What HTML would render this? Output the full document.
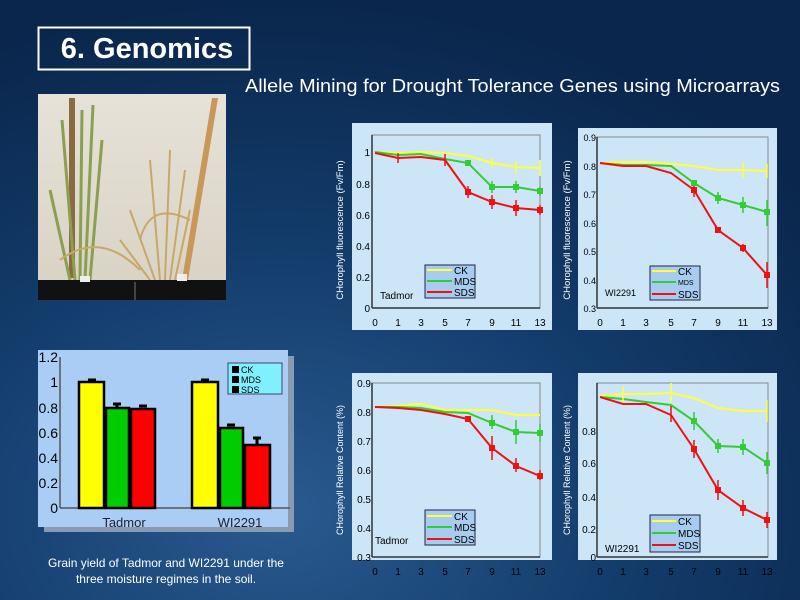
<!DOCTYPE html>
<html><head><meta charset="utf-8"><style>
html,body{margin:0;padding:0;width:800px;height:600px;overflow:hidden;background:#0b2b55}
svg{display:block;font-family:"Liberation Sans",sans-serif}
</style></head><body>
<svg width="800" height="600" viewBox="0 0 800 600" xmlns="http://www.w3.org/2000/svg">
<defs>
<radialGradient id="bg" cx="0.35" cy="0.85" r="0.85">
<stop offset="0" stop-color="#2a5a90"/><stop offset="0.5" stop-color="#133d6c"/><stop offset="1" stop-color="#0a264c"/>
</radialGradient>
<linearGradient id="wall" x1="0" y1="0" x2="0" y2="1"><stop offset="0" stop-color="#e6e2d8"/><stop offset="1" stop-color="#d8d2c4"/></linearGradient>
</defs>
<rect width="800" height="600" fill="url(#bg)"/>
<rect x="38.5" y="27.5" width="211" height="42" fill="none" stroke="#fff" stroke-width="2"/>
<text x="147" y="58" fill="#fff" font-size="29" font-weight="bold" text-anchor="middle">6. Genomics</text>
<text x="245" y="92" fill="#fff" font-size="18.7" textLength="535" lengthAdjust="spacingAndGlyphs">Allele Mining for Drought Tolerance Genes using Microarrays</text>
<!-- photo -->
<rect x="38" y="94" width="188" height="206" fill="url(#wall)"/>
<rect x="69" y="98" width="6" height="180" fill="#8a6a40"/>
<polygon points="212,98 218,98 188,280 182,280" fill="#c89858"/>
<g stroke="#8aa050" stroke-width="3" fill="none">
<path d="M75,280 L62,120 M80,280 L82,110 M85,280 L93,105 M90,280 L102,140 M70,280 L50,190"/>
</g>
<g stroke="#c8a868" stroke-width="2" fill="none">
<path d="M160,280 L150,160 M165,280 L170,150 M170,280 L185,170 M155,280 L130,210 M150,280 L120,240 M175,280 L190,210 M140,240 Q150,200 190,220 M60,260 Q100,230 140,270"/>
</g>
<rect x="38" y="280" width="188" height="20" fill="#111"/>
<rect x="134" y="282" width="2" height="18" fill="#444"/>
<rect x="80" y="276" width="10" height="6" fill="#eee"/><rect x="177" y="274" width="10" height="7" fill="#eee"/>
<!-- bar chart -->
<rect x="44" y="356" width="250" height="176" fill="#8a9ab0"/>
<rect x="38" y="350" width="250" height="177" fill="#a9cdf5"/>
<g font-size="14" fill="#000" text-anchor="end">
<text x="58" y="513">0</text><text x="58" y="488">0.2</text><text x="58" y="463">0.4</text><text x="58" y="438">0.6</text><text x="58" y="413">0.8</text><text x="58" y="387">1</text><text x="58" y="362">1.2</text>
</g>
<line x1="60" y1="357" x2="60" y2="508" stroke="#555" stroke-width="1.5"/>
<line x1="60" y1="508" x2="290" y2="508" stroke="#555" stroke-width="1.5"/>
<g stroke="#000" stroke-width="2.5">
<rect x="79" y="382" width="25" height="126" fill="#ffff00"/>
<rect x="106" y="408" width="23" height="100" fill="#00cc00"/>
<rect x="131" y="409" width="24" height="99" fill="#ff0000"/>
<rect x="192" y="382" width="26" height="126" fill="#ffff00"/>
<rect x="220" y="428" width="23" height="80" fill="#00cc00"/>
<rect x="245" y="445" width="25" height="63" fill="#ff0000"/>
</g>
<g stroke="#000" stroke-width="3">
<path d="M88,380h8 M113,404h8 M139,406h8 M201,380h8 M227,425h8 M253,438h8 M117,404v4 M257,438v7"/>
</g>
<rect x="228" y="363" width="54" height="31" fill="#80f0ff" stroke="#446" stroke-width="1"/>
<g font-size="9" fill="#000"><rect x="232" y="366" width="7" height="7"/><rect x="232" y="376" width="7" height="7"/><rect x="232" y="386" width="7" height="7"/>
<text x="241" y="373">CK</text><text x="241" y="383">MDS</text><text x="241" y="393">SDS</text></g>
<g font-size="13" fill="#223" text-anchor="middle"><text x="124" y="527">Tadmor</text><text x="240" y="527">WI2291</text></g>
<g font-size="12" fill="#fff" text-anchor="middle"><text x="166" y="567">Grain yield of Tadmor and WI2291 under the</text><text x="166" y="583">three moisture regimes in the soil.</text></g>

<g font-size="10" fill="#000">
<!-- P1 -->
<rect x="352" y="123" width="200" height="207" fill="#cce6f8"/>
<rect x="372" y="135" width="168" height="173" fill="none" stroke="#888"/>
<line x1="372" y1="308" x2="540" y2="308" stroke="#333" stroke-width="1.5"/>
<line x1="372" y1="135" x2="372" y2="308" stroke="#333" stroke-width="1.5"/>
<g text-anchor="end"><text x="370" y="312">0</text><text x="370" y="281">0.2</text><text x="370" y="250">0.4</text><text x="370" y="219">0.6</text><text x="370" y="188">0.8</text><text x="370" y="156">1</text></g>
<g text-anchor="middle"><text x="375" y="326">0</text><text x="398" y="326">1</text><text x="421" y="326">3</text><text x="445" y="326">5</text><text x="468" y="326">7</text><text x="492" y="326">9</text><text x="516" y="326">11</text><text x="540" y="326">13</text></g>
<polyline points="375,152 398,153 421,152 445,153 468,156 492,163 516,167 540,168" fill="none" stroke="#ffff40" stroke-width="2"/>
<polyline points="375,152 398,155 421,154 445,159 468,163 492,187 516,187 540,191" fill="none" stroke="#33cc33" stroke-width="2"/>
<polyline points="375,153 398,158 421,157 445,160 468,192 492,202 516,208 540,210" fill="none" stroke="#ee1111" stroke-width="2"/>
<g stroke="#ee1111" stroke-width="1.5"><path d="M468,186v12 M492,195v14 M516,200v16 M540,205v10 M398,153v10 M445,154v12"/></g>
<g stroke="#33cc33" stroke-width="1.5"><path d="M492,181v12 M516,181v12 M540,186v10"/></g>
<g stroke="#ffff40" stroke-width="1.5"><path d="M540,160v16 M516,161v12 M492,158v10"/></g>
<g fill="#33cc33"><rect x="489" y="184" width="6" height="6"/><rect x="513" y="184" width="6" height="6"/><rect x="537" y="188" width="6" height="6"/><rect x="465" y="160" width="6" height="6"/></g>
<g fill="#ee1111"><rect x="465" y="189" width="6" height="6"/><rect x="489" y="199" width="6" height="6"/><rect x="513" y="205" width="6" height="6"/><rect x="537" y="207" width="6" height="6"/></g>
<rect x="425" y="265" width="50" height="33" fill="#a8ccf0" stroke="#224"/>
<line x1="427" y1="270" x2="452" y2="270" stroke="#ffff40" stroke-width="2"/><line x1="427" y1="281" x2="452" y2="281" stroke="#33cc33" stroke-width="2"/><line x1="427" y1="292" x2="452" y2="292" stroke="#ee1111" stroke-width="2"/>
<text x="454" y="274">CK</text><text x="454" y="285">MDS</text><text x="454" y="296">SDS</text>
<text x="380" y="299">Tadmor</text>
<text transform="translate(343,230) rotate(-90)" text-anchor="middle" fill="#fff" font-size="9.5">CHorophyll fluorescence (Fv/Fm)</text>

<!-- P2 -->
<rect x="578" y="128" width="199" height="202" fill="#cce6f8"/>
<rect x="597" y="137" width="171" height="171" fill="none" stroke="#888"/>
<line x1="597" y1="308" x2="768" y2="308" stroke="#333" stroke-width="1.5"/>
<line x1="597" y1="137" x2="597" y2="308" stroke="#333" stroke-width="1.5"/>
<g text-anchor="end" font-size="9"><text x="596" y="312">0.3</text><text x="596" y="284">0.4</text><text x="596" y="255">0.5</text><text x="596" y="227">0.6</text><text x="596" y="198">0.7</text><text x="596" y="170">0.8</text><text x="596" y="141">0.9</text></g>
<g text-anchor="middle"><text x="600" y="326">0</text><text x="623" y="326">1</text><text x="646" y="326">3</text><text x="671" y="326">5</text><text x="694" y="326">7</text><text x="718" y="326">9</text><text x="743" y="326">11</text><text x="767" y="326">13</text></g>
<polyline points="600,163 623,162 646,162 671,164 694,166 718,170 743,170 767,171" fill="none" stroke="#ffff40" stroke-width="2"/>
<polyline points="600,163 623,165 646,165 671,166 694,183 718,198 743,205 767,212" fill="none" stroke="#33cc33" stroke-width="2"/>
<polyline points="600,163 623,166 646,166 671,173 694,190 718,230 743,248 767,275" fill="none" stroke="#ee1111" stroke-width="2"/>
<g stroke="#ee1111" stroke-width="1.5"><path d="M694,183v14 M767,262v26 M743,244v8"/></g>
<g stroke="#33cc33" stroke-width="1.5"><path d="M718,192v12 M743,197v16 M767,200v26"/></g>
<g stroke="#ffff40" stroke-width="1.5"><path d="M743,162v16 M767,164v14"/></g>
<g fill="#ee1111"><rect x="691" y="187" width="6" height="6"/><rect x="715" y="227" width="6" height="6"/><rect x="740" y="245" width="6" height="6"/><rect x="764" y="272" width="6" height="6"/></g>
<g fill="#33cc33"><rect x="691" y="180" width="6" height="6"/><rect x="715" y="195" width="6" height="6"/><rect x="740" y="202" width="6" height="6"/><rect x="764" y="209" width="6" height="6"/></g>
<rect x="650" y="266" width="50" height="34" fill="#a8ccf0" stroke="#224"/>
<line x1="652" y1="271" x2="676" y2="271" stroke="#ffff40" stroke-width="2"/><line x1="652" y1="282" x2="676" y2="282" stroke="#33cc33" stroke-width="2"/><line x1="652" y1="294" x2="676" y2="294" stroke="#ee1111" stroke-width="2"/>
<text x="678" y="275">CK</text><text x="678" y="285" font-size="7">MDS</text><text x="678" y="298">SDS</text>
<text x="605" y="296" font-size="9">WI2291</text>
<text transform="translate(570,230) rotate(-90)" text-anchor="middle" fill="#fff" font-size="9.5">CHorophyll fluorescence (Fv/Fm)</text>

<!-- P3 -->
<rect x="352" y="373" width="200" height="187" fill="#cce6f8"/>
<rect x="372" y="383" width="168" height="174" fill="none" stroke="#888"/>
<line x1="372" y1="557" x2="540" y2="557" stroke="#333" stroke-width="1.5"/>
<line x1="372" y1="383" x2="372" y2="557" stroke="#333" stroke-width="1.5"/>
<g text-anchor="end"><text x="371" y="561">0.3</text><text x="371" y="532">0.4</text><text x="371" y="503">0.5</text><text x="371" y="474">0.6</text><text x="371" y="445">0.7</text><text x="371" y="416">0.8</text><text x="371" y="387">0.9</text></g>
<g text-anchor="middle"><text x="375" y="575">0</text><text x="398" y="575">1</text><text x="421" y="575">3</text><text x="445" y="575">5</text><text x="468" y="575">7</text><text x="492" y="575">9</text><text x="516" y="575">11</text><text x="540" y="575">13</text></g>
<polyline points="375,407 398,406 421,404 445,410 468,410 492,410 516,415 540,415" fill="none" stroke="#ffff40" stroke-width="2"/>
<polyline points="375,407 398,407 421,408 445,412 468,413 492,423 516,432 540,433" fill="none" stroke="#33cc33" stroke-width="2"/>
<polyline points="375,407 398,408 421,410 445,414 468,419 492,448 516,466 540,476" fill="none" stroke="#ee1111" stroke-width="2"/>
<g stroke="#ee1111" stroke-width="1.5"><path d="M492,436v24 M516,458v14 M540,470v10"/></g>
<g stroke="#33cc33" stroke-width="1.5"><path d="M516,420v24 M540,424v18 M492,415v14"/></g>
<g fill="#ee1111"><rect x="489" y="445" width="6" height="6"/><rect x="513" y="463" width="6" height="6"/><rect x="537" y="473" width="6" height="6"/><rect x="465" y="416" width="6" height="6"/></g>
<g fill="#33cc33"><rect x="489" y="420" width="6" height="6"/><rect x="513" y="429" width="6" height="6"/><rect x="537" y="430" width="6" height="6"/></g>
<rect x="425" y="510" width="50" height="35" fill="#a8ccf0" stroke="#224"/>
<line x1="427" y1="516" x2="452" y2="516" stroke="#ffff40" stroke-width="2"/><line x1="427" y1="527" x2="452" y2="527" stroke="#33cc33" stroke-width="2"/><line x1="427" y1="539" x2="452" y2="539" stroke="#ee1111" stroke-width="2"/>
<text x="454" y="520">CK</text><text x="454" y="531">MDS</text><text x="454" y="543">SDS</text>
<text x="375" y="544">Tadmor</text>
<text transform="translate(343,470) rotate(-90)" text-anchor="middle" fill="#fff" font-size="9">CHorophyll Relative Content (%)</text>

<!-- P4 -->
<rect x="578" y="373" width="199" height="187" fill="#cce6f8"/>
<rect x="597" y="383" width="171" height="174" fill="none" stroke="#888"/>
<line x1="597" y1="557" x2="768" y2="557" stroke="#333" stroke-width="1.5"/>
<line x1="597" y1="383" x2="597" y2="557" stroke="#333" stroke-width="1.5"/>
<g text-anchor="end"><text x="596" y="561">0</text><text x="596" y="533">0.2</text><text x="596" y="501">0.4</text><text x="596" y="467">0.6</text><text x="596" y="435">0.8</text></g>
<g text-anchor="middle"><text x="600" y="575">0</text><text x="623" y="575">1</text><text x="646" y="575">3</text><text x="671" y="575">5</text><text x="694" y="575">7</text><text x="718" y="575">9</text><text x="743" y="575">11</text><text x="767" y="575">13</text></g>
<polyline points="600,396 623,394 646,394 671,393 694,398 718,408 743,411 767,411" fill="none" stroke="#ffff40" stroke-width="2"/>
<polyline points="600,397 623,399 646,402 671,405 694,421 718,446 743,447 767,463" fill="none" stroke="#33cc33" stroke-width="2"/>
<polyline points="600,397 623,404 646,404 671,415 694,449 718,490 743,508 767,520" fill="none" stroke="#ee1111" stroke-width="2"/>
<g stroke="#ee1111" stroke-width="1.5"><path d="M694,440v18 M718,480v20 M743,500v16 M767,512v16 M671,406v16"/></g>
<g stroke="#33cc33" stroke-width="1.5"><path d="M694,412v18 M718,439v14 M743,439v16 M767,452v22"/></g>
<g stroke="#ffff40" stroke-width="1.5"><path d="M671,383v20 M767,400v22 M623,386v16"/></g>
<g fill="#ee1111"><rect x="691" y="446" width="6" height="6"/><rect x="715" y="487" width="6" height="6"/><rect x="740" y="505" width="6" height="6"/><rect x="764" y="517" width="6" height="6"/></g>
<g fill="#33cc33"><rect x="691" y="418" width="6" height="6"/><rect x="715" y="443" width="6" height="6"/><rect x="740" y="444" width="6" height="6"/><rect x="764" y="460" width="6" height="6"/></g>
<rect x="650" y="515" width="50" height="37" fill="#a8ccf0" stroke="#224"/>
<line x1="652" y1="521" x2="676" y2="521" stroke="#ffff40" stroke-width="2"/><line x1="652" y1="533" x2="676" y2="533" stroke="#33cc33" stroke-width="2"/><line x1="652" y1="545" x2="676" y2="545" stroke="#ee1111" stroke-width="2"/>
<text x="678" y="525">CK</text><text x="678" y="537">MDS</text><text x="678" y="549">SDS</text>
<text x="605" y="552">WI2291</text>
<text transform="translate(570,470) rotate(-90)" text-anchor="middle" fill="#fff" font-size="9">CHorophyll Relative Content (%)</text>
</g>
</svg>
</body></html>
